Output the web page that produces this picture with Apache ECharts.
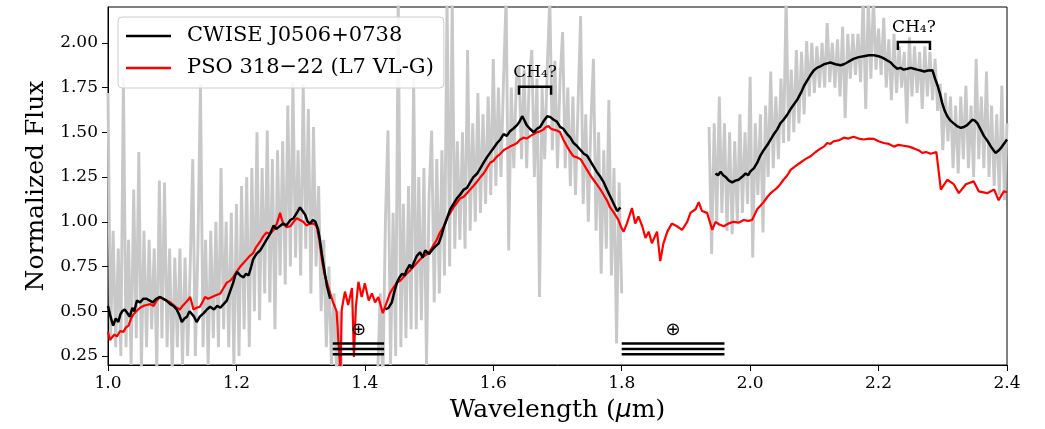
<!DOCTYPE html>
<html><head><meta charset="utf-8">
<script src="https://cdn.jsdelivr.net/npm/echarts@6/dist/echarts.min.js"></script>
<style>html,body{margin:0;padding:0;background:#fff}#c{width:1045px;height:429px}</style>
</head><body><div id="c"></div>
<script>
// ---- data (wavelength in micron, normalized flux) ----
const xTicks = [1.0, 1.2, 1.4, 1.6, 1.8, 2.0, 2.2, 2.4];
const yTicks = [0.25, 0.5, 0.75, 1.0, 1.25, 1.5, 1.75, 2.0];

// raw noisy CWISE spectrum (gray), sampled every grayStep micron
const grayStep = 0.004;
const grayStartA = 1.000;
const grayA = [1.72,0.35,0.95,0.30,0.85,0.25,1.81,0.30,0.90,0.20,1.18,0.35,1.39,0.18,0.95,0.30,0.90,0.40,0.85,0.18,
1.23,0.35,1.22,0.30,0.85,0.15,0.80,0.30,0.85,0.20,0.80,0.25,0.75,1.35,0.25,0.85,1.77,0.30,0.90,0.20,
0.95,0.35,1.00,0.30,1.30,0.40,1.00,0.30,1.05,0.20,1.10,0.25,1.20,0.40,1.25,0.30,1.30,0.50,1.50,0.45,
1.30,0.60,1.51,0.55,1.35,0.40,1.40,0.70,1.45,0.65,1.65,0.75,1.78,0.80,1.40,0.70,1.77,0.85,1.63,0.60,
1.53,0.75,1.20,0.50,0.90,0.30,0.75,0.20,0.60,0.15,0.50,0.15];
const grayStartB = 1.420;
const grayB = [0.15,0.60,0.10,1.00,1.51,0.20,1.05,0.25,2.25,0.30,1.10,0.35,1.20,0.40,1.80,0.40,1.25,0.45,1.30,0.20,
1.15,1.51,0.55,1.35,0.60,1.40,0.70,2.25,0.75,2.25,0.85,1.45,0.90,1.50,0.85,1.96,0.95,1.55,1.00,1.72,
1.05,1.60,1.10,1.70,1.15,1.91,1.20,1.75,1.25,1.80,2.25,0.84,1.75,1.30,1.80,1.87,1.35,1.85,1.30,1.80,
1.96,1.25,1.80,0.58,1.75,1.35,1.85,2.25,1.40,1.90,1.30,1.80,2.06,1.30,1.75,1.20,1.70,1.15,1.65,2.15,
1.10,1.60,1.00,1.55,1.91,0.95,1.50,0.71,1.40,0.85,1.68,0.70,1.30,0.32,1.22,0.60];
const grayStartC = 1.936;
const grayC = [1.53,0.82,1.55,1.00,1.70,1.05,1.55,0.95,1.50,0.93,1.45,1.00,1.60,1.05,1.50,1.10,1.81,0.80,1.55,1.15,
1.60,0.94,1.65,1.25,1.84,1.30,1.70,1.35,1.80,1.44,2.25,1.45,1.85,1.50,1.96,1.55,1.95,1.60,2.01,1.70,
2.00,1.72,1.98,1.75,2.00,1.75,2.11,1.78,2.00,1.75,2.02,1.70,2.09,1.58,2.05,1.80,2.05,1.82,2.05,1.78,
2.25,1.63,2.25,1.80,2.25,1.85,2.08,1.82,2.14,1.75,2.02,1.68,2.05,1.72,1.98,1.75,1.95,1.55,2.03,1.70,
1.98,1.72,1.95,1.63,1.98,1.70,1.95,1.68,1.91,1.62,1.77,1.40,1.72,1.45,1.70,1.30,1.65,1.27,1.70,1.35,
1.76,1.30,1.65,1.25,1.91,1.35,1.70,1.30,1.84,1.25,1.65,1.20,1.60,1.15,1.76,1.12,1.55];

// smoothed CWISE J0506+0738 (black), three segments
const cwiseSeg1 = [[1.000,0.53],[1.004,0.47],[1.008,0.42],[1.012,0.46],[1.016,0.44],[1.019,0.48],[1.022,0.50],[1.026,0.51],[1.030,0.49],[1.034,0.47],[1.038,0.52],[1.041,0.50],[1.045,0.56],[1.050,0.55],[1.055,0.57],[1.060,0.57],[1.065,0.56],[1.070,0.55],[1.075,0.57],[1.081,0.58],[1.086,0.57],[1.091,0.56],[1.097,0.54],[1.102,0.53],[1.107,0.51],[1.111,0.48],[1.115,0.44],[1.119,0.46],[1.123,0.47],[1.127,0.50],[1.130,0.51],[1.134,0.47],[1.138,0.44],[1.143,0.47],[1.149,0.49],[1.154,0.51],[1.159,0.525],[1.165,0.51],[1.170,0.53],[1.175,0.52],[1.180,0.54],[1.185,0.56],[1.190,0.61],[1.195,0.66],[1.198,0.70],[1.201,0.72],[1.206,0.70],[1.211,0.69],[1.215,0.71],[1.219,0.70],[1.223,0.75],[1.226,0.79],[1.231,0.82],[1.237,0.84],[1.242,0.87],[1.247,0.90],[1.252,0.93],[1.258,0.98],[1.262,0.96],[1.265,0.966],[1.269,0.98],[1.273,0.99],[1.278,0.98],[1.284,1.01],[1.289,1.02],[1.294,1.05],[1.299,1.08],[1.303,1.06],[1.307,1.04],[1.311,1.00],[1.315,0.99],[1.319,1.01],[1.323,1.00],[1.327,0.96],[1.330,0.90],[1.333,0.82],[1.336,0.75],[1.341,0.64],[1.346,0.57]];
const cwiseSeg2 = [[1.432,0.51],[1.437,0.52],[1.442,0.55],[1.446,0.61],[1.450,0.66],[1.454,0.69],[1.458,0.71],[1.462,0.70],[1.465,0.73],[1.470,0.76],[1.473,0.74],[1.476,0.77],[1.481,0.81],[1.486,0.83],[1.490,0.80],[1.494,0.84],[1.497,0.83],[1.500,0.82],[1.504,0.84],[1.509,0.86],[1.515,0.88],[1.519,0.92],[1.523,0.97],[1.528,1.02],[1.533,1.07],[1.538,1.10],[1.543,1.13],[1.548,1.15],[1.554,1.18],[1.559,1.19],[1.564,1.22],[1.569,1.25],[1.575,1.27],[1.580,1.30],[1.585,1.33],[1.590,1.36],[1.595,1.385],[1.600,1.41],[1.606,1.44],[1.611,1.46],[1.616,1.49],[1.621,1.48],[1.626,1.506],[1.631,1.52],[1.637,1.54],[1.641,1.56],[1.645,1.59],[1.648,1.57],[1.652,1.54],[1.657,1.52],[1.663,1.50],[1.668,1.52],[1.673,1.53],[1.678,1.56],[1.684,1.59],[1.689,1.585],[1.694,1.57],[1.699,1.56],[1.704,1.53],[1.709,1.52],[1.715,1.49],[1.720,1.47],[1.725,1.44],[1.730,1.425],[1.736,1.40],[1.741,1.38],[1.746,1.37],[1.751,1.34],[1.756,1.31],[1.761,1.28],[1.767,1.25],[1.772,1.22],[1.777,1.18],[1.781,1.15],[1.785,1.12],[1.789,1.09],[1.793,1.06],[1.798,1.08]];
const cwiseSeg3 = [[1.946,1.27],[1.950,1.26],[1.954,1.28],[1.958,1.26],[1.962,1.25],[1.967,1.23],[1.972,1.22],[1.977,1.23],[1.982,1.235],[1.987,1.25],[1.993,1.27],[1.997,1.26],[2.000,1.28],[2.006,1.30],[2.011,1.33],[2.016,1.37],[2.021,1.40],[2.027,1.43],[2.032,1.46],[2.037,1.49],[2.042,1.515],[2.047,1.55],[2.052,1.57],[2.058,1.60],[2.063,1.63],[2.068,1.655],[2.073,1.68],[2.079,1.72],[2.084,1.76],[2.089,1.79],[2.094,1.82],[2.099,1.845],[2.104,1.86],[2.110,1.87],[2.115,1.88],[2.120,1.885],[2.125,1.89],[2.133,1.88],[2.141,1.875],[2.146,1.88],[2.151,1.89],[2.156,1.90],[2.161,1.91],[2.169,1.92],[2.177,1.925],[2.185,1.93],[2.193,1.93],[2.200,1.925],[2.206,1.917],[2.212,1.905],[2.219,1.89],[2.224,1.87],[2.229,1.855],[2.234,1.86],[2.239,1.85],[2.245,1.855],[2.250,1.86],[2.255,1.855],[2.260,1.85],[2.266,1.845],[2.271,1.84],[2.277,1.845],[2.284,1.846],[2.288,1.80],[2.292,1.76],[2.296,1.71],[2.299,1.665],[2.303,1.62],[2.307,1.59],[2.312,1.565],[2.317,1.55],[2.322,1.535],[2.328,1.525],[2.333,1.53],[2.338,1.54],[2.342,1.555],[2.346,1.57],[2.350,1.565],[2.354,1.55],[2.359,1.515],[2.364,1.48],[2.370,1.45],[2.375,1.42],[2.379,1.40],[2.382,1.385],[2.386,1.395],[2.390,1.41],[2.395,1.435],[2.400,1.46]];

// PSO 318-22 (red)
const pso = [[1.000,0.385],[1.003,0.34],[1.006,0.33],[1.010,0.37],[1.014,0.36],[1.019,0.39],[1.024,0.385],[1.028,0.41],[1.032,0.42],[1.036,0.46],[1.039,0.48],[1.044,0.50],[1.050,0.52],[1.055,0.53],[1.060,0.535],[1.066,0.54],[1.071,0.53],[1.076,0.56],[1.081,0.58],[1.086,0.57],[1.091,0.56],[1.097,0.55],[1.102,0.535],[1.107,0.52],[1.112,0.51],[1.116,0.53],[1.120,0.545],[1.124,0.56],[1.128,0.58],[1.131,0.54],[1.133,0.51],[1.138,0.52],[1.143,0.525],[1.147,0.55],[1.151,0.58],[1.156,0.57],[1.162,0.58],[1.168,0.59],[1.175,0.60],[1.180,0.63],[1.185,0.66],[1.190,0.67],[1.195,0.69],[1.200,0.72],[1.206,0.75],[1.211,0.77],[1.216,0.79],[1.221,0.81],[1.226,0.825],[1.231,0.86],[1.237,0.89],[1.242,0.92],[1.247,0.94],[1.252,0.93],[1.258,0.955],[1.263,0.99],[1.268,1.05],[1.270,1.02],[1.273,0.99],[1.278,0.97],[1.284,0.975],[1.289,1.00],[1.294,1.02],[1.299,1.01],[1.304,1.00],[1.309,0.98],[1.315,0.99],[1.320,0.99],[1.325,0.975],[1.329,0.90],[1.333,0.79],[1.337,0.71],[1.341,0.66],[1.346,0.60],[1.351,0.545],[1.356,0.50],[1.362,0.15],[1.364,0.51],[1.369,0.61],[1.374,0.535],[1.380,0.63],[1.383,0.245],[1.386,0.525],[1.390,0.665],[1.395,0.58],[1.400,0.656],[1.406,0.56],[1.411,0.60],[1.416,0.55],[1.421,0.58],[1.428,0.49],[1.434,0.55],[1.439,0.60],[1.444,0.63],[1.450,0.66],[1.455,0.67],[1.460,0.69],[1.465,0.71],[1.471,0.73],[1.476,0.75],[1.481,0.77],[1.486,0.79],[1.491,0.805],[1.497,0.82],[1.502,0.84],[1.507,0.87],[1.512,0.90],[1.517,0.94],[1.523,0.975],[1.528,1.02],[1.533,1.05],[1.538,1.08],[1.543,1.105],[1.548,1.13],[1.554,1.14],[1.559,1.16],[1.564,1.18],[1.569,1.20],[1.575,1.226],[1.580,1.25],[1.585,1.27],[1.590,1.30],[1.595,1.33],[1.600,1.34],[1.606,1.366],[1.611,1.38],[1.616,1.40],[1.621,1.41],[1.626,1.42],[1.632,1.43],[1.637,1.44],[1.642,1.46],[1.647,1.47],[1.652,1.465],[1.658,1.48],[1.663,1.49],[1.668,1.50],[1.673,1.505],[1.678,1.515],[1.682,1.53],[1.686,1.535],[1.690,1.52],[1.694,1.515],[1.699,1.51],[1.704,1.50],[1.709,1.46],[1.715,1.42],[1.720,1.39],[1.725,1.366],[1.730,1.36],[1.736,1.35],[1.741,1.32],[1.746,1.29],[1.751,1.26],[1.756,1.235],[1.761,1.21],[1.767,1.18],[1.772,1.15],[1.777,1.12],[1.782,1.08],[1.788,1.05],[1.795,1.01],[1.799,0.97],[1.803,0.945],[1.808,0.99],[1.816,1.077],[1.821,0.99],[1.826,1.03],[1.832,0.975],[1.837,0.91],[1.842,0.945],[1.847,0.88],[1.855,0.945],[1.860,0.78],[1.865,0.88],[1.871,0.945],[1.878,0.99],[1.886,0.975],[1.894,0.955],[1.902,1.00],[1.907,1.05],[1.915,1.07],[1.920,1.11],[1.925,1.06],[1.933,1.05],[1.941,0.955],[1.946,1.00],[1.952,0.985],[1.959,0.975],[1.966,0.99],[1.974,1.00],[1.982,0.995],[1.990,1.01],[1.997,1.005],[2.003,1.01],[2.007,1.04],[2.011,1.07],[2.016,1.09],[2.021,1.11],[2.027,1.14],[2.032,1.16],[2.037,1.175],[2.042,1.19],[2.047,1.21],[2.052,1.235],[2.058,1.26],[2.063,1.29],[2.070,1.31],[2.078,1.33],[2.086,1.35],[2.094,1.366],[2.102,1.39],[2.110,1.41],[2.115,1.42],[2.120,1.44],[2.125,1.435],[2.130,1.45],[2.138,1.455],[2.146,1.47],[2.153,1.465],[2.161,1.475],[2.169,1.465],[2.177,1.46],[2.185,1.465],[2.193,1.463],[2.200,1.45],[2.208,1.44],[2.216,1.435],[2.224,1.42],[2.231,1.43],[2.239,1.425],[2.247,1.42],[2.255,1.41],[2.262,1.40],[2.268,1.385],[2.274,1.39],[2.281,1.38],[2.290,1.39],[2.297,1.18],[2.307,1.235],[2.317,1.21],[2.325,1.16],[2.336,1.21],[2.348,1.226],[2.356,1.17],[2.369,1.16],[2.380,1.18],[2.387,1.12],[2.395,1.17],[2.400,1.165]];

// annotations
const telluricBands = [[1.35, 1.43], [1.80, 1.96]];
const telluricLevels = [0.32, 0.29, 0.26];
const telluricSymbolFlux = 0.395;
const ch4Bands = [[1.64, 1.69, 1.755, 1.71], [2.23, 2.28, 2.004, 1.96]]; // x0, x1, top, tick bottom

const names = ['CWISE J0506+0738', 'PSO 318\u221222 (L7 VL-G)'];

// ---- build ----
function graySeries(start, vals) { return vals.map((v, i) => [+(start + i * grayStep).toFixed(4), v]); }
const grayData = [].concat(graySeries(grayStartA, grayA), ['-'], graySeries(grayStartB, grayB), ['-'], graySeries(grayStartC, grayC));
const cwiseData = [].concat(cwiseSeg1, ['-'], cwiseSeg2, ['-'], cwiseSeg3);

const FONT = 'DejaVu Serif';
const chart = echarts.init(document.getElementById('c'), null, {renderer: 'canvas'});
chart.setOption({
  animation: false,
  backgroundColor: '#fff',
  grid: {left: 108, right: 38, top: 7, bottom: 64, show: true, borderColor: '#000', borderWidth: 1, backgroundColor: 'transparent'},
  legend: {
    left: 118, top: 17, orient: 'vertical',
    data: names.map(n => ({name: n, icon: 'rect'})),
    itemWidth: 45, itemHeight: 2.5, itemGap: 8,
    padding: [7, 10, 8, 8],
    borderColor: '#cccccc', borderWidth: 1, borderRadius: 4,
    backgroundColor: 'rgba(255,255,255,0.85)',
    textStyle: {fontFamily: FONT, fontSize: 21, color: '#000', padding: [0, 0, 0, 11], lineHeight: 24}
  },
  xAxis: {
    type: 'value', min: 1.0, max: 2.4, interval: 0.2,
    axisLine: {lineStyle: {color: '#000', width: 1}},
    axisTick: {length: 6, lineStyle: {color: '#000', width: 1}},
    axisLabel: {formatter: v => v.toFixed(1), fontFamily: FONT, fontSize: 17, color: '#000', margin: 10},
    splitLine: {show: false},
    name: 'Wavelength ({i|\u03bc}m)', nameLocation: 'middle', nameGap: 33,
    nameTextStyle: {fontFamily: FONT, fontSize: 25, color: '#000',
      rich: {i: {fontFamily: 'DejaVu Sans', fontStyle: 'italic', fontSize: 25, color: '#000'}}}
  },
  yAxis: {
    type: 'value', min: 0.2, max: 2.2,
    axisLine: {show: true, lineStyle: {color: '#000', width: 1}},
    axisTick: {show: true, length: 6, lineStyle: {color: '#000', width: 1}, customValues: yTicks},
    axisLabel: {formatter: v => v.toFixed(2), fontFamily: FONT, fontSize: 17, color: '#000', margin: 10, customValues: yTicks},
    splitLine: {show: false},
    name: 'Normalized Flux', nameLocation: 'middle', nameGap: 58,
    nameTextStyle: {fontFamily: FONT, fontSize: 25, color: '#000'}
  },
  series: [
    {type: 'line', name: 'raw', data: grayData, symbol: 'none', connectNulls: false,
     lineStyle: {color: '#c8c8c8', width: 2.9}, z: 1, silent: true},
    {type: 'line', name: names[1], data: pso, symbol: 'none',
     lineStyle: {color: '#ff0000', width: 2.2}, itemStyle: {color: '#ff0000'}, z: 2},
    {type: 'line', name: names[0], data: cwiseData, symbol: 'none', connectNulls: false,
     lineStyle: {color: '#000', width: 2.5}, itemStyle: {color: '#000'}, z: 3},
    {type: 'custom', name: 'telluric', data: telluricBands, z: 4, silent: true, clip: false,
     renderItem: function (params, api) {
       const a = api.value(0), b = api.value(1);
       const children = telluricLevels.map(l => {
         const p1 = api.coord([a, l]), p2 = api.coord([b, l]);
         return {type: 'line', shape: {x1: p1[0], y1: p1[1], x2: p2[0], y2: p2[1]}, style: {stroke: '#000', lineWidth: 2.5}};
       });
       const c = api.coord([(a + b) / 2, telluricSymbolFlux]);
       children.push({type: 'text', x: c[0], y: c[1], style: {text: '\u2295', fontFamily: 'DejaVu Sans', fontSize: 18, fill: '#000', align: 'center', verticalAlign: 'middle'}});
       return {type: 'group', children: children};
     }},
    {type: 'custom', name: 'ch4', data: ch4Bands, z: 4, silent: true, clip: false,
     renderItem: function (params, api) {
       const a = api.value(0), b = api.value(1), top = api.value(2), bot = api.value(3);
       const p1 = api.coord([a, bot]), p2 = api.coord([a, top]), p3 = api.coord([b, top]), p4 = api.coord([b, bot]);
       return {type: 'group', children: [
         {type: 'polyline', shape: {points: [p1, p2, p3, p4]}, style: {stroke: '#000', lineWidth: 2.5, fill: null}},
         {type: 'text', x: (p2[0] + p3[0]) / 2, y: p2[1] - 6,
          style: {text: 'CH\u2084?', fontFamily: FONT, fontSize: 17, fill: '#000', align: 'center', verticalAlign: 'bottom'}}
       ]};
     }}
  ]
});
</script></body></html>
